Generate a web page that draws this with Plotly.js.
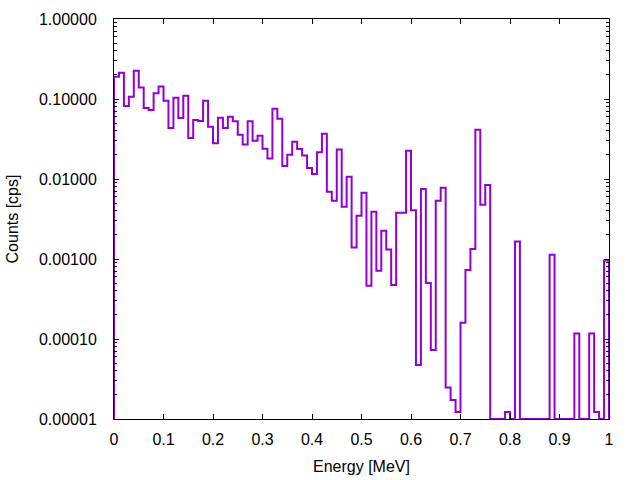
<!DOCTYPE html>
<html>
<head>
<meta charset="utf-8">
<script src="https://cdn.plot.ly/plotly-3.0.1.min.js"></script>
<style>
  body { margin: 0; background: #ffffff; }
  #spectrum { width: 640px; height: 480px; }
</style>
</head>
<body>
<div id="spectrum"></div>
<script>
// Histogram bins: 100 bins of 0.01 MeV from 0 to 1 MeV
const binWidth = 0.01;
const energyMin = 0;
const energyMax = 1;

// Count rate per bin [cps] (0 = empty bin)
const counts = [
  0.19, 0.213, 0.0818, 0.107, 0.226, 0.139, 0.077, 0.073, 0.118, 0.143,
  0.095, 0.0434, 0.104, 0.0579, 0.11, 0.0325, 0.0546, 0.053, 0.095, 0.045,
  0.0279, 0.0584, 0.0434, 0.06, 0.0526, 0.0358, 0.0269, 0.0526, 0.0301, 0.0348,
  0.0238, 0.018, 0.0757, 0.0567, 0.01454, 0.0201, 0.0293, 0.0237, 0.0196, 0.0137,
  0.01155, 0.0216, 0.0369, 0.00695, 0.00536, 0.0233, 0.0045, 0.0107, 0.00139, 0.00348,
  0.00674, 0.000464, 0.0039, 0.000714, 0.00226, 0.00131, 0.000473, 0.00379, 0.00379, 0.0225,
  0.00406, 0.0000473, 0.0075, 0.0005, 0.000073, 0.00536, 0.0078, 0.0000247, 0.0000173, 0.0000122,
  0.00016, 0.00073, 0.00133, 0.0414, 0.00478, 0.0084, 0, 0, 0, 0.0000122,
  0, 0.00165, 0, 0, 0, 0, 0, 0, 0.00113, 0,
  0, 0, 0, 0.000117, 0, 0, 0.000117, 0.0000122, 0, 0.00096
];

// Y axis decades shown (log10)
const yDecadeMin = -5;
const yDecadeMax = 0;
const yFloor = Math.pow(10, yDecadeMin);

// Build step outline: rise from floor at the first edge, drop to floor at the last
var stepX = [energyMin];
var stepY = [yFloor];
counts.forEach((c, i) => {
  stepX.push(energyMin + i * binWidth);
  stepY.push(c > 0 ? c : yFloor);
});
stepX.push(energyMax);
stepY.push(yFloor);

var spectrumTrace = {
  x: stepX,
  y: stepY,
  type: 'scatter',
  mode: 'lines',
  line: { shape: 'hv', color: '#9400d3', width: 2 },
  hoverinfo: 'skip',
};

var axisFont = { family: '"Liberation Sans", Arial, sans-serif', size: 16, color: '#000000' };

var spectrumLayout = {
  width: 640,
  height: 480,
  showlegend: false,
  paper_bgcolor: '#ffffff',
  plot_bgcolor: '#ffffff',
  font: axisFont,
  margin: { l: 114, r: 31, t: 19, b: 61, pad: 0 },
  xaxis: {
    range: [energyMin, energyMax],
    dtick: 0.1,
    tick0: 0,
    ticks: 'inside',
    ticklen: 5,
    tickwidth: 1,
    tickcolor: '#000000',
    showline: true,
    linecolor: '#000000',
    linewidth: 1,
    mirror: 'allticks',
    showgrid: false,
    zeroline: false,
    ticklabelstandoff: 6,
    tickfont: axisFont,
    title: { text: 'Energy [MeV]', font: axisFont, standoff: 13 },
  },
  yaxis: {
    type: 'log',
    range: [yDecadeMin, yDecadeMax],
    dtick: 1,
    tickformat: '.5f',
    ticks: 'inside',
    ticklen: 5,
    tickwidth: 1,
    tickcolor: '#000000',
    minor: { ticks: 'inside', ticklen: 3, dtick: 'D1', tickcolor: '#000000', showgrid: false },
    showline: true,
    linecolor: '#000000',
    linewidth: 1,
    mirror: 'allticks',
    showgrid: false,
    zeroline: false,
    ticklabelstandoff: 13,
    tickfont: axisFont,
    title: { text: 'Counts [cps]', font: axisFont, standoff: 16 },
  },
};

var config = { responsive: false, displayModeBar: false, staticPlot: true };

Plotly.newPlot('spectrum', [spectrumTrace], spectrumLayout, config);
</script>
</body>
</html>
